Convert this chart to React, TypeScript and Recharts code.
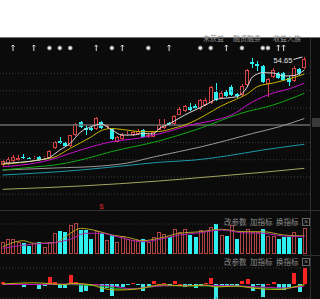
import React from "react"
import {
  Bar,
  ComposedChart,
  Line,
  ReferenceDot,
  ReferenceLine,
  XAxis,
  YAxis,
} from "recharts"

// daily candles
const openP = [
  33.05, 33.25, 33.85, 33.95, 34.65, 34.55, 34.35, 34.65, 34.45, 34.55,
  36.45, 37.95, 37.55, 36.85, 39.05, 41.65, 40.5, 40.35, 40.25, 41.65,
  40.65, 40.35, 37.65, 38.25, 38.95, 39.05, 39.2, 40.05, 38.75, 38.75,
  40.15, 40.45, 41.4, 41.25, 43.15, 43.85, 44.65, 44.9, 44.25, 45.05,
  45.45, 47.65, 46.45, 47.65, 48.65, 47.25, 47.05, 49.05, 53.65, 53.25,
  52.85, 49.25, 50.65, 51.45, 51.45, 50.45, 49.85, 52.25, 52.45,
]
const closeP = [
  33.85, 34.25, 34.65, 34.45, 34.35, 34.35, 34.65, 34.05, 34.75, 35.85,
  37.65, 37.45, 36.95, 39.05, 41.25, 40.65, 40.1, 39.95, 42.45, 40.45,
  41.05, 38.2, 38.65, 39.15, 39.35, 39.65, 39.85, 38.75, 39.15, 39.6,
  41.05, 41.35, 41.05, 42.85, 44.35, 44.85, 44.05, 44.45, 46.05, 46.05,
  48.65, 46.05, 47.45, 46.85, 47.05, 46.85, 48.85, 52.05, 53.25, 52.85,
  49.65, 50.25, 52.05, 50.45, 50.05, 49.65, 52.45, 51.25, 54.35,
]
const highP = [
  34.25, 34.65, 35.05, 35.05, 35.25, 34.65, 34.85, 34.85, 34.85, 36.05,
  37.85, 38.65, 37.65, 39.15, 41.45, 41.85, 41.05, 40.65, 42.65, 41.85,
  41.25, 40.45, 38.85, 39.45, 39.85, 39.85, 40.25, 40.25, 39.45, 39.85,
  42.25, 42.25, 41.65, 43.05, 44.65, 45.05, 45.45, 45.25, 46.25, 46.45,
  48.85, 49.45, 47.85, 48.05, 49.05, 47.45, 49.25, 52.25, 54.45, 53.85,
  53.05, 50.45, 52.45, 51.65, 51.65, 50.85, 52.85, 52.45, 54.65,
]
const lowP = [
  32.85, 33.05, 33.65, 33.85, 34.25, 34.25, 34.25, 33.85, 34.35, 34.45,
  36.25, 37.25, 36.85, 36.75, 38.95, 40.45, 39.05, 39.85, 40.15, 40.35,
  40.45, 38.05, 37.45, 38.05, 38.85, 38.85, 39.05, 38.65, 38.55, 38.65,
  40.05, 40.25, 40.85, 41.15, 43.05, 43.65, 43.95, 44.25, 44.05, 44.85,
  45.25, 45.85, 46.25, 46.65, 46.95, 46.55, 46.85, 48.85, 52.45, 51.85,
  49.45, 46.65, 50.45, 50.25, 49.85, 48.85, 49.65, 51.05, 52.25,
]

// moving averages, sampled at [day, value]
const ma5Pts = [
  [0, 33.39], [7, 34.05], [9, 34.55], [11, 36.05], [13, 37.39], [15, 39.65],
  [17, 40.71], [19, 41.25], [21, 40.05], [23, 39.05], [25, 39.05], [27, 39.35],
  [29, 39.25], [30, 40.25], [32, 41.25], [35, 43.05], [37, 44.05], [39, 45.05],
  [41, 46.15], [43, 46.45], [45, 46.71], [47, 48.65], [48, 50.65], [50, 51.51],
  [52, 51.45], [54, 50.85], [56, 50.95], [58, 52.05],
]
const ma10Pts = [
  [0, 33.19], [7, 34.05], [10, 34.65], [13, 36.39], [17, 38.65], [19, 39.95],
  [21, 40.35], [23, 40.15], [27, 39.71], [30, 39.75], [33, 40.45], [36, 41.45],
  [39, 43.05], [42, 44.85], [45, 46.25], [47, 47.25], [49, 48.75], [52, 49.45],
  [55, 50.25], [58, 51.25],
]
const ma20Pts = [
  [0, 32.71], [6, 33.39], [9, 34.05], [15, 36.05], [21, 37.71], [26, 38.39],
  [30, 39.25], [37, 41.25], [40, 41.85], [44, 43.05], [48, 45.65], [52, 47.45],
  [55, 48.25], [58, 49.45],
]
const ma30Pts = [
  [0, 32.05], [6, 32.65], [10, 33.05], [15, 34.05], [21, 35.75], [30, 37.85],
  [37, 40.05], [46, 43.45], [52, 45.05], [58, 47.39],
]
const ma60Pts = [
  [0, 32.05], [10, 32.45], [19, 32.85], [24, 33.45], [29, 34.65], [34, 35.75],
  [38, 36.65], [43, 37.95], [48, 39.35], [53, 40.65], [58, 42.35],
]
const ma120Pts = [
  [0, 31.05], [6, 31.39], [15, 32.05], [23, 32.85], [30, 33.59], [37, 34.05],
  [43, 34.85], [50, 36.05], [58, 37.19],
]
const ma250Pts = [
  [0, 28.19], [15, 28.85], [30, 29.85], [40, 30.71], [50, 31.59], [58, 32.39],
]

// volume (万手) and its colour as drawn
const vol = [
  12.3, 14.7, 14.7, 12.3, 10.7, 8, 10.7, 11.7, 7.3, 12.3,
  21.3, 23.3, 21.7, 29, 30.7, 24, 24, 15, 23, 21.3,
  14, 19, 12.3, 18, 15, 14, 14, 14.7, 11.7, 17.3,
  21.7, 19.7, 16.7, 24.7, 22.3, 24.7, 19, 16.7, 24, 23.3,
  27.3, 30, 19, 18, 28.7, 15, 23.3, 24.7, 22.3, 22.3,
  24.7, 18, 18, 15.3, 16.7, 16.7, 22.3, 16, 25.7,
]
const volColor =
  "RRRRCCRCRR" + "RCCRRCCCRC" + "RCRRRRRCRR" + "RRCRRRCCRR" + "RCRCRCRRRR" + "CRRCCCRCR"
const volMa5Pts = [
  [0, 7.3], [4, 13.3], [6, 10.7], [10, 11.3], [13, 20.7], [15, 25.7], [18, 23.3],
  [21, 19], [24, 16.7], [27, 13.3], [30, 15.7], [34, 20.7], [38, 22.3], [42, 24.7],
  [46, 22.3], [50, 22.3], [54, 19], [58, 18],
]
const volMa10Pts = [
  [0, 5.7], [6, 10], [10, 11.3], [13, 14.7], [16, 20.7], [19, 20.7], [22, 17.3],
  [27, 12.3], [30, 14.5], [34, 19], [38, 21.3], [42, 24], [46, 21.3], [50, 20.7],
  [54, 18], [58, 17.3],
]

// MACD histogram and lines
const macd = [
  2.3, 0.5, 1, 0.5, -2.7, -1, -0.5, -5, -2, 6.7,
  2.3, -4, -4, 9.3, 2.3, -8.3, -6.7, -2, 0.5, -8.3,
  -4, -11.7, -2.7, -2.7, -1, 0.7, -0.5, -7.3, -2, 2.7,
  0.5, 1, -0.5, 3.3, 0.5, -2.7, -1, -4, -1.5, 1,
  6, -16, -2, -2, -1, -3.3, 2.7, 5, -7.3, -1,
  -13, 0.5, 1.7, -6, -6, -2.7, 10.7, -8.3, 15.5,
]
const difPts = [
  [0, 0], [6, 1.2], [12, -0.5], [13, 0.7], [17, -0.7], [19, -4], [22, -6], [26, -5],
  [29, -1.7], [31, -0.7], [35, -2], [39, -1], [41, -3], [45, -2], [48, -4], [50, -5],
  [53, -5.5], [56, -3], [58, -0.5],
]
const deaPts = [
  [0, -0.5], [6, -0.5], [13, 0], [17, -0.5], [21, -2], [25, -5], [28, -3], [31, -1.7],
  [35, -1.5], [40, -1.5], [45, -2], [50, -3], [54, -4], [58, -2],
]
const macdGPts = [
  [0, -0.5], [10, -0.5], [19, -2], [23, -5], [27, -4], [31, -1.7], [40, -2], [48, -3],
  [53, -4.5], [58, -1],
]

// event marks on top row
const eventIdx = [2, 6, 9, 11, 13, 18, 21, 23, 28, 32, 38, 40, 43, 46, 50, 51, 53, 54]
const eventKind = [
  "arrow", "arrow", "dot", "dot", "dot", "arrow", "dot", "arrow", "dot",
  "arrow", "dot", "dot", "arrow", "dot", "dot", "dot", "arrow", "arrow",
]
const gridPrices = [51.4, 47.9, 44.45, 37.55, 34.1, 30.65, 27.2]
const basePrice = 41.05
const maxHigh = 54.65
const toolLabels = ["改参数", "加指标", "换指标"]
const tabLabels = ["未获益", "融资融券", "收益入族"]

const N = openP.length
const BG = "#0b0b0b"
const RED = "#d94242"
const CYAN = "#2ef0f0"
const CJK = "'Noto Sans CJK SC', sans-serif"

function spread(pts: number[][]) {
  const out: (number | null)[] = Array(N).fill(null)
  pts.forEach(([i, v]) => (out[i] = v))
  return out
}

const ma5 = spread(ma5Pts)
const ma10 = spread(ma10Pts)
const ma20 = spread(ma20Pts)
const ma30 = spread(ma30Pts)
const ma60 = spread(ma60Pts)
const ma120 = spread(ma120Pts)
const ma250 = spread(ma250Pts)
const vma5 = spread(volMa5Pts)
const vma10 = spread(volMa10Pts)
const dif = spread(difPts)
const dea = spread(deaPts)
const macdG = spread(macdGPts)

const rows = openP.map((open, i) => ({
  i,
  open,
  close: closeP[i],
  high: highP[i],
  low: lowP[i],
  range: [lowP[i], highP[i]],
  ma5: ma5[i],
  ma10: ma10[i],
  ma20: ma20[i],
  ma30: ma30[i],
  ma60: ma60[i],
  ma120: ma120[i],
  ma250: ma250[i],
  vol: vol[i],
  volUp: volColor[i] === "R",
  vma5: vma5[i],
  vma10: vma10[i],
  macd: macd[i],
  dif: dif[i],
  dea: dea[i],
  macdG: macdG[i],
}))

function Candle(props: any) {
  const { x, y, width, height, payload } = props
  if (!payload) return null
  const { open, close, high, low } = payload
  const up = close >= open
  const color = up ? RED : CYAN
  const k = high > low ? height / (high - low) : 0
  const top = Math.round(y + (high - Math.max(open, close)) * k)
  const bot = Math.max(top + 1, Math.round(y + (high - Math.min(open, close)) * k))
  const c = Math.round(x + width / 2)
  return (
    <g shapeRendering="crispEdges">
      <line x1={c + 0.5} x2={c + 0.5} y1={y} y2={top} stroke={color} />
      <line x1={c + 0.5} x2={c + 0.5} y1={bot} y2={y + height} stroke={color} />
      {up ? (
        <rect x={c - 1.5} y={top + 0.5} width={3} height={Math.max(0, bot - top - 1)} fill={BG} stroke={color} />
      ) : (
        <rect x={c - 2} y={top} width={4} height={bot - top} fill={color} />
      )}
    </g>
  )
}

function VolBar(props: any) {
  const { x, y, width, height, payload } = props
  if (!payload) return null
  const c = Math.round(x + width / 2)
  const t = Math.round(y)
  const b = Math.round(y + height)
  return payload.volUp ? (
    <rect x={c - 1.5} y={t + 0.5} width={3} height={b - t - 1} fill={BG} stroke="#b04444" shapeRendering="crispEdges" />
  ) : (
    <rect x={c - 2} y={t} width={4} height={b - t} fill={CYAN} shapeRendering="crispEdges" />
  )
}

function MacdBar(props: any) {
  const { x, y, width, height, payload } = props
  if (!payload) return null
  const c = Math.round(x + width / 2)
  const t = Math.round(Math.min(y, y + height))
  const b = Math.round(Math.max(y, y + height))
  return (
    <rect
      x={c - 2}
      y={t}
      width={4}
      height={Math.max(1, b - t)}
      fill={payload.macd >= 0 ? "#ff2424" : "#3ee8e8"}
      shapeRendering="crispEdges"
    />
  )
}

function EventMark({ cx, cy, kind }: any) {
  if (kind === "dot") {
    return <circle cx={cx} cy={cy} r={2} fill="#e8e8e8" stroke="#888" strokeWidth={0.8} />
  }
  return (
    <path
      d={`M${cx},${cy - 3} L${cx},${cy + 3} M${cx - 1.5},${cy - 1.5} L${cx},${cy - 3} L${cx + 1.5},${cy - 1.5}`}
      stroke="#e0e0e0"
      strokeWidth={1}
      fill="none"
    />
  )
}

function MaxLabel({ cx, cy }: any) {
  return (
    <g>
      <line x1={cx - 2} y1={cy} x2={cx - 11} y2={cy + 2.5} stroke="#e0e0e0" />
      <text x={cx - 12} y={cy + 6} textAnchor="end" fontSize={7.5} fill="#e6e6e6" fontFamily="'Liberation Sans', Arial">
        {maxHigh}
      </text>
    </g>
  )
}

const line = (key: string, color: string) => (
  <Line
    key={key}
    dataKey={key}
    type="monotone"
    stroke={color}
    strokeWidth={1}
    dot={false}
    connectNulls
    isAnimationActive={false}
  />
)

function ToolBar({ top }: { top: number }) {
  return (
    <>
      {toolLabels.map((t, k) => (
        <div
          key={t}
          style={{
            position: "absolute",
            left: 224 + k * 26,
            top,
            fontSize: 7.5,
            lineHeight: "8px",
            color: "#8a8a8a",
            fontFamily: CJK,
            whiteSpace: "nowrap",
          }}
        >
          {t}
        </div>
      ))}
      <div
        style={{
          position: "absolute",
          left: 302,
          top,
          width: 6,
          height: 6,
          border: "1px solid #666",
          color: "#888",
          fontSize: 7,
          lineHeight: "6px",
          textAlign: "center",
          fontFamily: "Arial",
        }}
      >
        ×
      </div>
    </>
  )
}

export default function App() {
  const abs = (top: number, height: number): React.CSSProperties => ({
    position: "absolute",
    left: 0,
    top,
    width: 310,
    height,
  })
  return (
    <div style={{ position: "absolute", left: 0, top: 0, width: 320, height: 299, background: "#fff", overflow: "hidden" }}>
      <div style={{ position: "absolute", left: 0, top: 38, width: 320, height: 261, background: BG }} />
      <div style={{ position: "absolute", left: 0, top: 37, width: 320, height: 1, background: "#777" }} />
      <div style={{ position: "absolute", left: 0, top: 210, width: 320, height: 1, background: "#303030" }} />
      <div style={{ position: "absolute", left: 303, top: 255, width: 17, height: 1, background: "#303030" }} />
      <div style={{ position: "absolute", left: 310, top: 38, width: 1, height: 261, background: "#2e2e2e" }} />
      <div style={{ position: "absolute", left: 312, top: 118, width: 8, height: 9, background: "#3a3a3a" }} />

      {tabLabels.map((t, k) => (
        <div
          key={t}
          style={{
            position: "absolute",
            left: [203, 233, 273][k],
            top: 35,
            fontSize: 7,
            lineHeight: "7px",
            color: "#8c8c8c",
            fontFamily: CJK,
            whiteSpace: "nowrap",
          }}
        >
          {t}
        </div>
      ))}

      <div style={abs(38, 173)}>
        <ComposedChart width={310} height={173} data={rows} margin={{ top: 2, right: 0, bottom: 1, left: 0 }}>
          <XAxis dataKey="i" type="category" hide padding={{ left: 0, right: 3 }} />
          <YAxis hide domain={[24.05, 58.05]} allowDataOverflow />
          {gridPrices.map((p) => (
            <ReferenceLine key={p} y={p} stroke="#3c3c3c" strokeDasharray="1 2" />
          ))}
          <ReferenceLine y={basePrice} stroke="#6a6a6a" strokeWidth={1.5} />
          <Bar dataKey="range" barSize={5} shape={Candle} isAnimationActive={false} />
          {line("ma250", "#a6a65e")}
          {line("ma120", "#1d98a8")}
          {line("ma60", "#9a9a9a")}
          {line("ma30", "#12a812")}
          {line("ma20", "#c810c8")}
          {line("ma10", "#c8b400")}
          {line("ma5", "#dcdcdc")}
          {eventIdx.map((idx, k) => (
            <ReferenceDot
              key={idx}
              x={idx}
              y={56.45}
              r={2}
              shape={(p: any) => <EventMark {...p} kind={eventKind[k]} />}
            />
          ))}
          <ReferenceDot
            x={19}
            y={24.85}
            r={2}
            shape={(p: any) => (
              <text x={p.cx} y={p.cy + 3} textAnchor="middle" fontSize={8} fill="#cc2222" fontFamily="Arial">
                $
              </text>
            )}
          />
          <ReferenceDot x={N - 1} y={maxHigh} r={2} shape={(p: any) => <MaxLabel {...p} />} />
        </ComposedChart>
      </div>

      <div style={abs(211, 44)}>
        <ComposedChart width={310} height={44} data={rows} margin={{ top: 0, right: 0, bottom: 1, left: 0 }}>
          <XAxis dataKey="i" type="category" hide padding={{ left: 0, right: 3 }} />
          <YAxis hide domain={[0, 43]} allowDataOverflow />
          <ReferenceLine y={30} stroke="#3c3c3c" strokeDasharray="1 2" />
          <Bar dataKey="vol" barSize={4} shape={VolBar} isAnimationActive={false} />
          {line("vma5", "#b0a020")}
          {line("vma10", "#b020b0")}
        </ComposedChart>
      </div>
      <ToolBar top={218} />

      <div style={abs(255, 44)}>
        <ComposedChart width={310} height={44} data={rows} margin={{ top: 0, right: 0, bottom: 0, left: 0 }}>
          <XAxis dataKey="i" type="category" hide padding={{ left: 0, right: 3 }} />
          <YAxis hide domain={[-15, 29]} allowDataOverflow />
          <ReferenceLine y={16} stroke="#3c3c3c" strokeDasharray="1 2" />
          <ReferenceLine y={-14} stroke="#3c3c3c" strokeDasharray="1 2" />
          <Bar dataKey="macd" barSize={4} shape={MacdBar} isAnimationActive={false} />
          {line("macdG", "#10a010")}
          {line("dea", "#c010c0")}
          {line("dif", "#b8b800")}
        </ComposedChart>
      </div>
      <ToolBar top={258} />
    </div>
  )
}
